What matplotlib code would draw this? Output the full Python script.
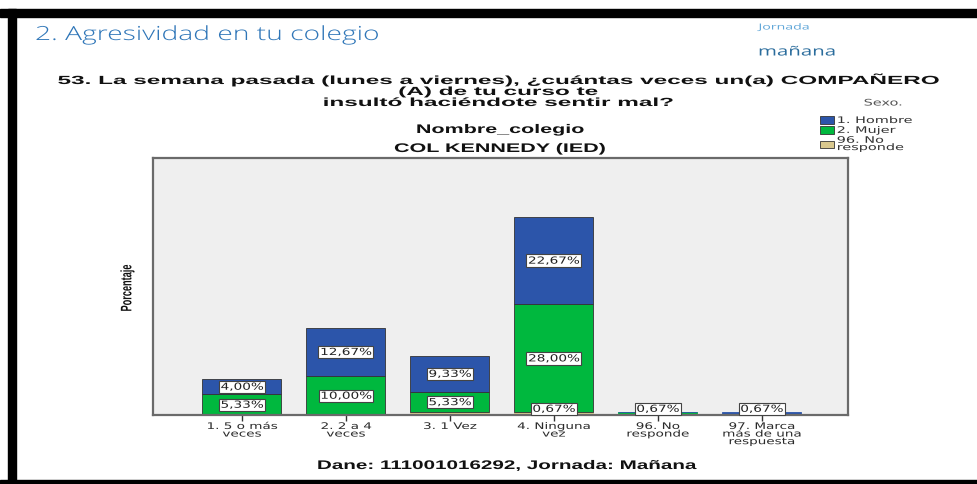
import numpy as np
import matplotlib
matplotlib.use("Agg")
import matplotlib.pyplot as plt
from matplotlib.patches import Rectangle, Patch
from matplotlib.patheffects import AbstractPathEffect
from matplotlib.transforms import Affine2D

categories = ["1. 5 o más\nveces", "2. 2 a 4\nveces", "3. 1 Vez", "4. Ninguna\nvez",
              "96. No\nresponde", "97. Marca\nmás de una\nrespuesta"]
no_responde = [0.0, 0.0, 0.67, 0.67, 0.0, 0.0]
mujer = [5.33, 10.00, 5.33, 28.00, 0.67, 0.0]
hombre = [4.00, 12.67, 9.33, 22.67, 0.0, 0.67]
series_names = ["1. Hombre", "2. Mujer", "96. No\nresponde"]
# etiquetas que el original no muestra (serie, barra)
hidden = [("no_responde", 2)]

c_hombre = "#2c55aa"
c_mujer = "#00b83e"
c_nr = "#d9c88e"


class Stretch(AbstractPathEffect):
	# la captura original esta estirada en horizontal
	def __init__(self, sx=1.0, sy=1.0, anchor="center"):
		super().__init__()
		self.sx, self.sy, self.anchor = sx, sy, anchor

	def draw_path(self, renderer, gc, tpath, affine, rgbFace=None):
		pts = affine.transform(tpath.vertices)
		x0, x1 = pts[:, 0].min(), pts[:, 0].max()
		y0, y1 = pts[:, 1].min(), pts[:, 1].max()
		cx = x0 if self.anchor == "left" else (x0 + x1) / 2
		cy = (y0 + y1) / 2
		a = affine + Affine2D().translate(-cx, -cy).scale(self.sx, self.sy).translate(cx, cy)
		renderer.draw_path(gc, tpath, a, rgbFace)


fig = plt.figure(figsize=(9.77, 4.85), dpi=100)
W, H = 977, 485

def fx(px):
	return px / W

def fy(py):
	return 1 - py / H

# marco negro de la captura
fig.patches.append(Rectangle((0, fy(18)), 1, fy(10) - fy(18), transform=fig.transFigure, color="black"))
fig.patches.append(Rectangle((fx(8), 0), fx(16) - fx(8), fy(10), transform=fig.transFigure, color="black"))
fig.patches.append(Rectangle((0, 0), 1, fy(481), transform=fig.transFigure, color="black"))

t = fig.text(fx(35), fy(36), "2. Agresividad en tu colegio", fontsize=14, color="#2f76b8",
			 family="Open Sans", fontweight="light", va="center")
t.set_path_effects([Stretch(1.45, anchor="left")])
t = fig.text(fx(758), fy(29), "Jornada", fontsize=6, color="#5fa6d8", va="center", family="Open Sans")
t.set_path_effects([Stretch(1.7, anchor="left")])
t = fig.text(fx(758), fy(53), "mañana", fontsize=9.5, color="#2a6c9c", va="center", family="Open Sans")
t.set_path_effects([Stretch(1.55, anchor="left")])

bold = dict(family="Liberation Sans", fontweight="bold", color="#111111", ha="center")
for txt, yy in [("53. La semana pasada (lunes a viernes), ¿cuántas veces un(a) COMPAÑERO", 85),
				("(A) de tu curso te", 96), ("insultó haciéndote sentir mal?", 107)]:
	t = fig.text(fx(498), fy(yy), txt, fontsize=8.5, va="baseline", **bold)
	t.set_path_effects([Stretch(2.06)])
for txt, yy in [("Nombre_colegio", 131), ("COL KENNEDY (IED)", 150)]:
	t = fig.text(fx(500), fy(yy), txt, fontsize=9, va="center", **bold)
	t.set_path_effects([Stretch(1.72)])
t = fig.text(fx(507), fy(467), "Dane: 111001016292, Jornada: Mañana", fontsize=9, va="center", **bold)
t.set_path_effects([Stretch(1.65)])

t = fig.text(fx(127), fy(289), "Porcentaje", rotation=90, fontsize=10, fontweight="bold",
			 family="Liberation Sans", ha="center", va="center", color="#111111")
t.set_path_effects([Stretch(1.1, 0.66)])

ax = fig.add_axes([fx(153), fy(416), fx(848) - fx(153), fy(159) - fy(416)])
ax.set_facecolor("#efefef")
x = np.arange(len(categories))
w = 0.76
edge = "#333333"

def edges(vals, face):
	# los segmentos muy finos se ven con su propio color
	return [edge if v > 1 else face for v in vals]

ax.bar(x, no_responde, w, color=c_nr, edgecolor=edges(no_responde, c_nr), linewidth=0.6)
ax.bar(x, mujer, w, bottom=no_responde, color=c_mujer, edgecolor=edges(mujer, c_mujer), linewidth=0.6)
base2 = np.array(no_responde) + np.array(mujer)
ax.bar(x, hombre, w, bottom=base2, color=c_hombre, edgecolor=edges(hombre, c_hombre), linewidth=0.6)

ax.set_xlim(-0.856, 5.83)
ax.set_ylim(0, 66.6)

def label(vals, bottoms, name):
	for i, (v, b) in enumerate(zip(vals, bottoms)):
		if v <= 0 or (name, i) in hidden:
			continue
		yc = max(b + v / 2, 1.6)
		t = ax.text(i, yc, ("%.2f%%" % v).replace(".", ","), ha="center", va="center",
					fontsize=7, family="DejaVu Sans", color="#222222",
					bbox=dict(boxstyle="square,pad=0.12", fc="white", ec="#444444", lw=0.8))
		t.set_path_effects([Stretch(1.4)])
		t.get_bbox_patch().set_path_effects([Stretch(1.4)])

label(no_responde, [0] * 6, "no_responde")
label(mujer, no_responde, "mujer")
label(hombre, base2, "hombre")

ax.set_xticks(x)
ax.set_xticklabels(categories, fontsize=6.5, family="DejaVu Sans", color="#2a2a2a", linespacing=0.8)
for t in ax.get_xticklabels():
	t.set_path_effects([Stretch(1.5)])
ax.tick_params(axis="x", length=4, width=1, color="#333333", pad=1)
ax.set_yticks([])
for s in ax.spines.values():
	s.set_color("#6a6a6a")
	s.set_linewidth(1.6)

t = fig.text(fx(883), fy(104), "Sexo.", fontsize=6.5, color="#555555", ha="center", va="center", family="DejaVu Sans")
t.set_path_effects([Stretch(1.6)])
handles = [Patch(facecolor=c, edgecolor=edge, lw=0.6) for c in [c_hombre, c_mujer, c_nr]]
leg = fig.legend(handles, series_names, loc="upper left", bbox_to_anchor=(fx(820), fy(117)),
				 frameon=False, handlelength=1.55, handleheight=0.9, handletextpad=0.3,
				 labelspacing=0.1, borderpad=0, borderaxespad=0,
				 prop={"family": "DejaVu Sans", "size": 6.5})
for t in leg.get_texts():
	t.set_color("#333333")
	t.set_linespacing(0.75)
	t.set_path_effects([Stretch(1.6, anchor="left")])

fig.savefig("out.png", dpi=100)
